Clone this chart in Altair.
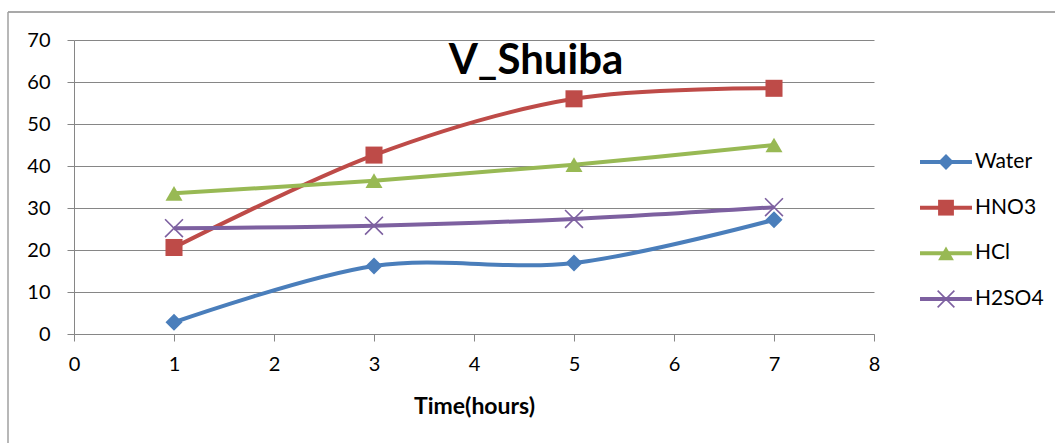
import altair as alt
import pandas as pd

# Measurements over time for each solution
hours = [1, 3, 5, 7]
water = [2.8, 16.2, 16.9, 27.2]
hno3 = [20.6, 42.6, 56.0, 58.5]
hcl = [33.5, 36.5, 40.3, 45.0]
h2so4 = [25.2, 25.8, 27.4, 30.2]

series_names = ["Water", "HNO3", "HCl", "H2SO4"]
series_colors = ["#4A7EBB", "#BE4B48", "#98B954", "#7D60A0"]
x_ticks = [0, 1, 2, 3, 4, 5, 6, 7, 8]
y_ticks = [0, 10, 20, 30, 40, 50, 60, 70]
chart_title = "V_Shuiba"
x_title = "Time(hours)"

FONT = "Lato"
GRID = "#868686"
X_PATH = "M-1,-1L1,1M-1,1L1,-1"

rows = []
for name, vals in zip(series_names, [water, hno3, hcl, h2so4]):
    for h, v in zip(hours, vals):
        rows.append({"series": name, "hours": h, "value": v})
df = pd.DataFrame(rows)

color = alt.Color("series:N", scale=alt.Scale(domain=series_names, range=series_colors), legend=None)
stroke = alt.Stroke("series:N", scale=alt.Scale(domain=series_names, range=series_colors), legend=None)
shape = alt.Shape(
    "series:N",
    scale=alt.Scale(domain=series_names, range=["diamond", "square", "triangle-up", X_PATH]),
    legend=None,
)

x_enc = alt.X(
    "hours:Q",
    scale=alt.Scale(domain=[0, 8], nice=False),
    axis=alt.Axis(
        values=x_ticks, format="d", grid=False, title=x_title, titleFont=FONT, titleFontSize=23,
        titleFontWeight="bold", titleColor="#000", titleY=79, titleBaseline="alphabetic",
        labelFont=FONT, labelFontSize=20, labelColor="#000", labelPadding=13,
        tickSize=7, tickColor=GRID, domainColor=GRID, labelFlush=False,
    ),
)
y_enc = alt.Y(
    "value:Q",
    scale=alt.Scale(domain=[0, 70], nice=False),
    axis=alt.Axis(
        values=y_ticks, grid=True, gridColor=GRID, gridWidth=1, title=None,
        labelFont=FONT, labelFontSize=20, labelColor="#000", labelPadding=17,
        tickSize=7, tickColor=GRID, domainColor=GRID,
    ),
)

base = alt.Chart(df)

lines = base.mark_line(interpolate="cardinal", strokeWidth=4).encode(
    x=x_enc, y=y_enc, color=color, detail="series:N"
)

solid_pts = base.transform_filter(alt.datum.series != "H2SO4").mark_point(
    filled=True, size=290, opacity=1
).encode(x="hours:Q", y="value:Q", color=color, shape=shape)

cross_pts = base.transform_filter(alt.datum.series == "H2SO4").mark_point(
    shape=X_PATH, filled=False, size=320, strokeWidth=1.6, opacity=1
).encode(x="hours:Q", y="value:Q", stroke=stroke)

title_df = pd.DataFrame({"label": [chart_title]})
title = alt.Chart(title_df).mark_text(
    font=FONT, fontSize=42, fontWeight="bold", color="#000", align="center", baseline="alphabetic"
).encode(x=alt.value(462), y=alt.value(34), text="label:N")

# Legend drawn as line + marker + label per series
leg_df = pd.DataFrame({"series": series_names})
leg_y = alt.Y(
    "series:N",
    scale=alt.Scale(type="point", domain=series_names, range=[122, 259], padding=0),
    axis=None,
)
leg_lines = alt.Chart(leg_df).mark_rule(strokeWidth=4).encode(
    x=alt.value(846), x2=alt.value(898), y=leg_y, color=color
)
leg_solid = alt.Chart(leg_df).transform_filter(alt.datum.series != "H2SO4").mark_point(
    filled=True, size=250, opacity=1
).encode(x=alt.value(872), y=leg_y, color=color, shape=shape)
leg_cross = alt.Chart(leg_df).transform_filter(alt.datum.series == "H2SO4").mark_point(
    shape=X_PATH, filled=False, size=280, strokeWidth=1.6, opacity=1
).encode(x=alt.value(872), y=leg_y, stroke=stroke)
leg_text = alt.Chart(leg_df).mark_text(
    font=FONT, fontSize=21, color="#000", align="left", baseline="middle"
).encode(x=alt.value(901), y=leg_y, text="series:N")

# Chart frame (top and left edges)
frame_top = alt.Chart(title_df).mark_rule(color="#8c8c8c", strokeWidth=1.5).encode(
    x=alt.value(-66), x2=alt.value(990), y=alt.value(-28)
)
frame_left = alt.Chart(title_df).mark_rule(color="#a0a0a0", strokeWidth=1.5).encode(
    x=alt.value(-66), y=alt.value(-28), y2=alt.value(420)
)

main = alt.layer(lines, solid_pts, cross_pts, title, frame_top, frame_left)
legend = alt.layer(leg_lines, leg_solid, leg_cross, leg_text)

chart = alt.layer(main, legend).resolve_scale(y="independent").properties(
    width=800,
    height=294,
    autosize=alt.AutoSizeParams(type="none"),
    padding={"left": 74, "top": 40, "right": 181, "bottom": 109},
    background="white",
).configure_view(stroke=None)

chart.save("out.html", embed_options={"renderer": "svg", "actions": False})
